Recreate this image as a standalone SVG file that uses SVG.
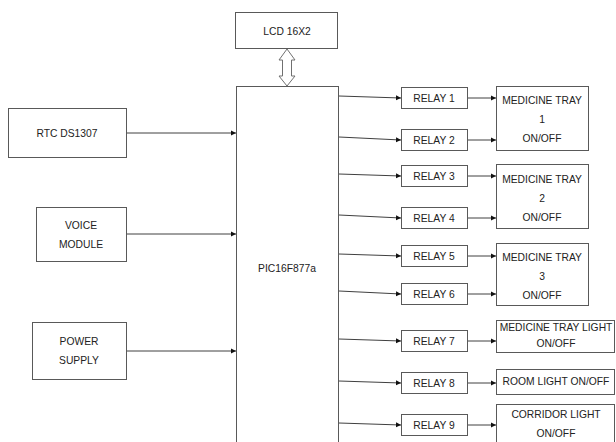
<svg xmlns="http://www.w3.org/2000/svg" width="616" height="442" viewBox="0 0 616 442">
<style>
.box{fill:#fff;stroke:#595959;stroke-width:1}
.t{font-family:"Liberation Sans",Arial,sans-serif;font-size:10.3px;fill:#222;text-anchor:middle}
.c{stroke:#404040;stroke-width:1;fill:none;marker-end:url(#ah)}
</style>
<defs>
<marker id="ah" markerWidth="6" markerHeight="6" refX="5" refY="3" orient="auto" markerUnits="userSpaceOnUse">
<path d="M0,0.5 L5,3 L0,5.5 Z" fill="#111"/>
</marker>
</defs>
<rect width="616" height="442" fill="#fff"/>
<g id="lcd"><rect class="box" x="235.5" y="12.5" width="102" height="36"/><text class="t" x="287" y="35">LCD 16X2</text></g>
<g id="pic"><rect class="box" x="236.5" y="86.5" width="102" height="370"/><text class="t" x="287" y="272">PIC16F877a</text></g>
<g id="rtc"><rect class="box" x="8.5" y="108.5" width="118" height="49"/><text class="t" x="67" y="137">RTC DS1307</text></g>
<g id="voice"><rect class="box" x="36.5" y="207.5" width="90" height="54"/><text class="t" x="81" y="229">VOICE</text><text class="t" x="81" y="248">MODULE</text></g>
<g id="power"><rect class="box" x="32.5" y="322.5" width="94" height="57"/><text class="t" x="79" y="345">POWER</text><text class="t" x="79" y="364">SUPPLY</text></g>
<g id="relay1"><rect class="box" x="401.5" y="87.5" width="66" height="21"/><text class="t" x="434" y="102">RELAY 1</text></g>
<g id="relay2"><rect class="box" x="401.5" y="129.5" width="66" height="21"/><text class="t" x="434" y="144">RELAY 2</text></g>
<g id="relay3"><rect class="box" x="401.5" y="165.5" width="66" height="21"/><text class="t" x="434" y="180">RELAY 3</text></g>
<g id="relay4"><rect class="box" x="401.5" y="207.5" width="66" height="21"/><text class="t" x="434" y="222">RELAY 4</text></g>
<g id="relay5"><rect class="box" x="401.5" y="245.5" width="66" height="21"/><text class="t" x="434" y="260">RELAY 5</text></g>
<g id="relay6"><rect class="box" x="401.5" y="283.5" width="66" height="21"/><text class="t" x="434" y="298">RELAY 6</text></g>
<g id="relay7"><rect class="box" x="401.5" y="330.5" width="66" height="21"/><text class="t" x="434" y="345">RELAY 7</text></g>
<g id="relay8"><rect class="box" x="401.5" y="372.5" width="66" height="21"/><text class="t" x="434" y="387">RELAY 8</text></g>
<g id="relay9"><rect class="box" x="401.5" y="414.5" width="66" height="21"/><text class="t" x="434" y="429">RELAY 9</text></g>
<g id="tray1"><rect class="box" x="496.5" y="86.5" width="92" height="64"/><text class="t" x="542" y="104">MEDICINE TRAY</text><text class="t" x="542" y="123">1</text><text class="t" x="542" y="142">ON/OFF</text></g>
<g id="tray2"><rect class="box" x="496.5" y="164.5" width="92" height="64"/><text class="t" x="542" y="183">MEDICINE TRAY</text><text class="t" x="542" y="202">2</text><text class="t" x="542" y="221">ON/OFF</text></g>
<g id="tray3"><rect class="box" x="496.5" y="243.5" width="92" height="62"/><text class="t" x="542" y="261">MEDICINE TRAY</text><text class="t" x="542" y="280">3</text><text class="t" x="542" y="299">ON/OFF</text></g>
<g id="traylight"><rect class="box" x="496.5" y="320.5" width="118" height="32"/><text class="t" x="556" y="331">MEDICINE TRAY LIGHT</text><text class="t" x="556" y="347">ON/OFF</text></g>
<g id="roomlight"><rect class="box" x="496.5" y="369.5" width="118" height="25"/><text class="t" x="556" y="385">ROOM LIGHT ON/OFF</text></g>
<g id="corridor"><rect class="box" x="496.5" y="404.5" width="118" height="50"/><text class="t" x="556" y="418">CORRIDOR LIGHT</text><text class="t" x="556" y="437">ON/OFF</text></g>
<g id="connectors">
<path d="M287,49 L295,60 L291.5,60 L291.5,76 L295,76 L287,86 L279,76 L282.5,76 L282.5,60 L279,60 Z" fill="#fff" stroke="#707070" stroke-width="1"/>
<line class="c" x1="127" y1="133" x2="236" y2="133"/>
<line class="c" x1="127" y1="234" x2="236" y2="234"/>
<line class="c" x1="127" y1="351" x2="236" y2="351"/>
<line class="c" x1="339" y1="96" x2="401" y2="98"/>
<line class="c" x1="339" y1="137" x2="401" y2="140"/>
<line class="c" x1="339" y1="174" x2="401" y2="176"/>
<line class="c" x1="339" y1="215" x2="401" y2="218"/>
<line class="c" x1="339" y1="254" x2="401" y2="256"/>
<line class="c" x1="339" y1="291" x2="401" y2="294"/>
<line class="c" x1="339" y1="339" x2="401" y2="341"/>
<line class="c" x1="339" y1="381" x2="401" y2="383"/>
<line class="c" x1="339" y1="423" x2="401" y2="425"/>
<line class="c" x1="468" y1="98" x2="496" y2="98"/>
<line class="c" x1="468" y1="140" x2="496" y2="140"/>
<line class="c" x1="468" y1="176" x2="496" y2="176"/>
<line class="c" x1="468" y1="218" x2="496" y2="218"/>
<line class="c" x1="468" y1="256" x2="496" y2="256"/>
<line class="c" x1="468" y1="294" x2="496" y2="294"/>
<line class="c" x1="468" y1="341" x2="496" y2="341"/>
<line class="c" x1="468" y1="383" x2="496" y2="383"/>
<line class="c" x1="468" y1="425" x2="496" y2="425"/>
</g>
</svg>
